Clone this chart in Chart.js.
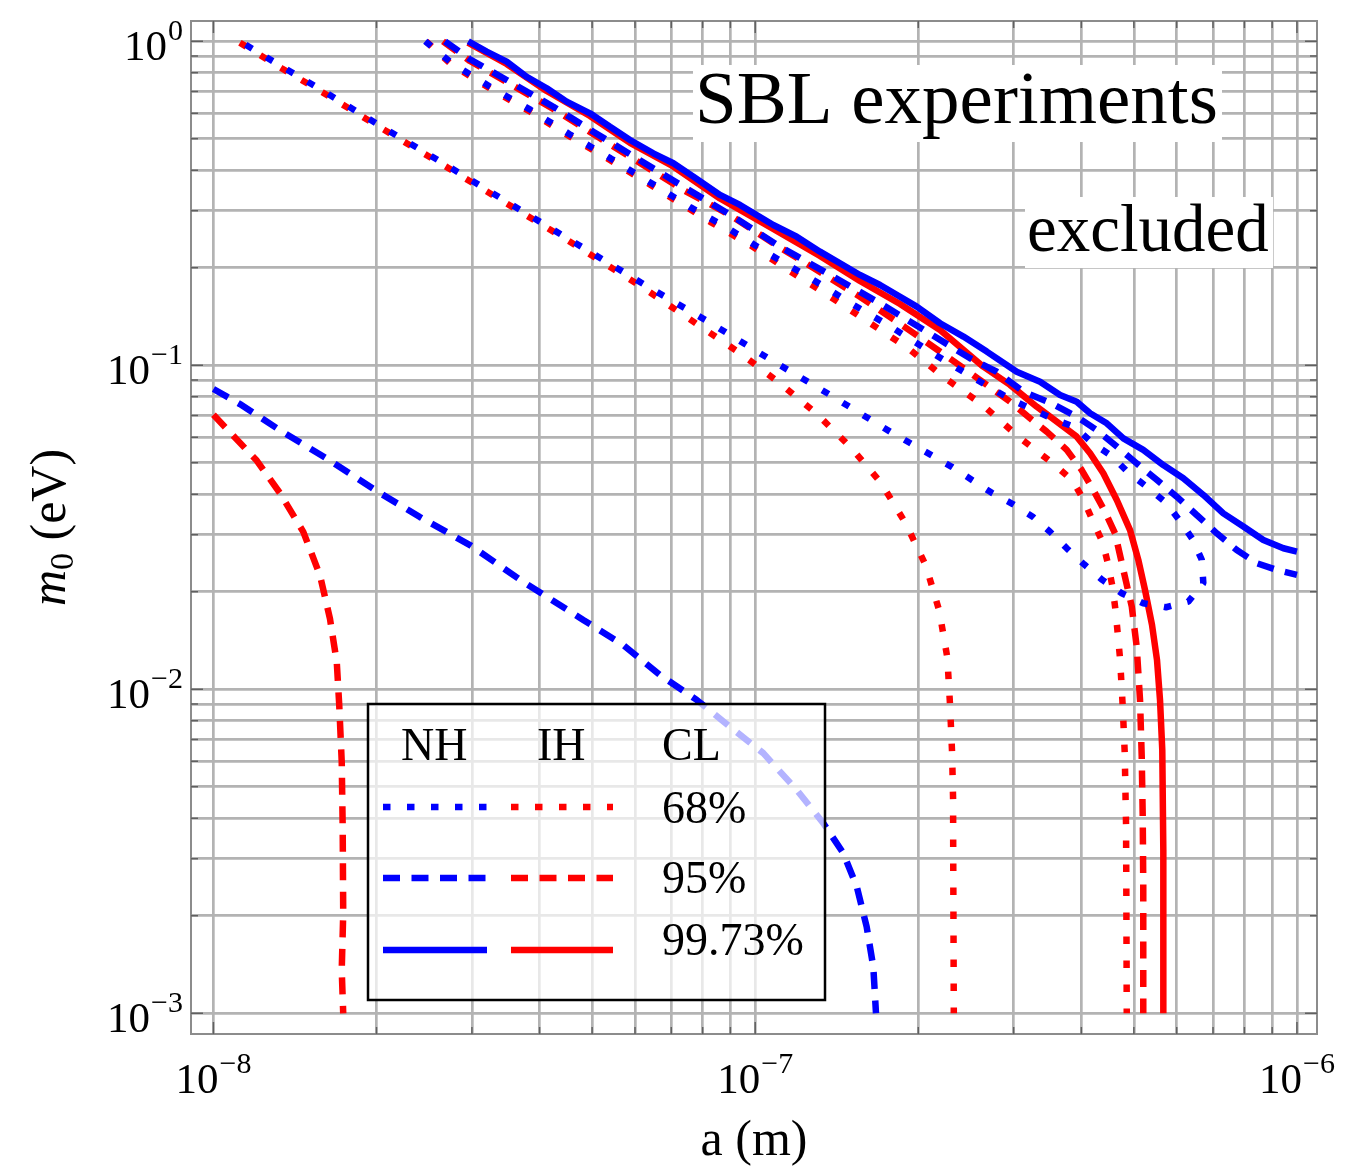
<!DOCTYPE html>
<html><head><meta charset="utf-8">
<script src="https://cdn.jsdelivr.net/npm/chart.js@4.4.1/dist/chart.umd.min.js"></script>
<style>html,body{margin:0;padding:0;background:#fff;}#wrap{width:1350px;height:1169px;}</style>
</head><body><div id="wrap"><canvas id="c" width="1350" height="1169"></canvas></div>
<script>
// ---- data: [a (m), m0 (eV)] ----
const NH_68 = [[2.46e-8,1.0],[2.741e-8,0.861],[3.24e-8,0.724],[3.851e-8,0.614],[4.564e-8,0.514],[5.411e-8,0.435],[6.413e-8,0.366],[7.602e-8,0.307],[9.01e-8,0.2617],[1.068e-7,0.219],[1.266e-7,0.1856],[1.501e-7,0.1554],[1.779e-7,0.1316],[2.102e-7,0.1102],[2.493e-7,0.0927],[2.963e-7,0.0785],[3.547e-7,0.0683],[3.894e-7,0.0644],[4.198e-7,0.0574],[4.55e-7,0.0525],[4.884e-7,0.0466],[5.28e-7,0.0422],[5.708e-7,0.0379],[6.066e-7,0.0333],[6.421e-7,0.029],[6.673e-7,0.0251],[6.718e-7,0.02125],[6.302e-7,0.01864],[5.733e-7,0.01791],[5.204e-7,0.01842],[4.749e-7,0.01978],[4.373e-7,0.02175],[4.046e-7,0.02431],[3.759e-7,0.02724],[3.501e-7,0.03064],[3.253e-7,0.0341],[2.988e-7,0.0373],[2.733e-7,0.0404],[2.306e-7,0.0486],[1.774e-7,0.0624],[1.375e-7,0.081],[1.057e-7,0.1051],[8.19e-8,0.1364],[6.26e-8,0.1769],[4.468e-8,0.2484],[3.452e-8,0.3221],[2.664e-8,0.4191],[2.053e-8,0.5428],[1.591e-8,0.704],[1.338e-8,0.835],[1.119e-8,1.0]];
const IH_68_UPPER = [[2.47e-8,1.0],[2.741e-8,0.851],[3.24e-8,0.715],[3.851e-8,0.605],[4.564e-8,0.5066],[5.411e-8,0.4286],[6.413e-8,0.3601],[8.31e-8,0.2755],[9.85e-8,0.2335],[1.163e-7,0.1945],[1.375e-7,0.1628],[1.624e-7,0.1354],[1.917e-7,0.1128],[2.231e-7,0.0918],[2.63e-7,0.0754],[3.06e-7,0.0602],[3.576e-7,0.0492],[3.856e-7,0.044],[4.034e-7,0.0386],[4.198e-7,0.0331],[4.38e-7,0.0284],[4.485e-7,0.0242],[4.571e-7,0.0205],[4.629e-7,0.01732],[4.716e-7,0.01238],[4.769e-7,0.00884],[4.81e-7,0.00635],[4.837e-7,0.00381],[4.843e-7,0.00231],[4.851e-7,0.001]];
const IH_68_LOWER = [[1.119e-8,0.99],[1.338e-8,0.824],[1.591e-8,0.695],[2.053e-8,0.5362],[2.664e-8,0.4138],[3.452e-8,0.318],[4.468e-8,0.2454],[6.26e-8,0.172],[8.02e-8,0.130],[9.48e-8,0.1076],[1.111e-7,0.088],[1.299e-7,0.0708],[1.501e-7,0.0558],[1.707e-7,0.0434],[1.898e-7,0.0324],[2.067e-7,0.024],[2.187e-7,0.01745],[2.263e-7,0.01252],[2.289e-7,0.00894],[2.309e-7,0.00639],[2.319e-7,0.00458],[2.32e-7,0.00327],[2.326e-7,0.001]];
const NH_95_UPPER = [[2.676e-8,1.0],[2.975e-8,0.88],[3.477e-8,0.7596],[4.24e-8,0.628],[5.025e-8,0.526],[6.041e-8,0.4354],[7.37e-8,0.3558],[9.11e-8,0.2875],[1.111e-7,0.2323],[1.394e-7,0.1877],[1.7e-7,0.1553],[2.073e-7,0.127],[2.493e-7,0.1051],[2.792e-7,0.0955],[3.125e-7,0.0829],[3.501e-7,0.0767],[3.922e-7,0.0694],[4.271e-7,0.0631],[4.65e-7,0.0561],[5.061e-7,0.0498],[5.511e-7,0.0443],[5.999e-7,0.0393],[6.531e-7,0.0345],[7.112e-7,0.0303],[7.743e-7,0.0269],[8.431e-7,0.0245],[9.18e-7,0.02334],[1.0e-6,0.02254]];
const NH_95_LOWER = [[1.0e-8,0.0845],[1.119e-8,0.0759],[1.327e-8,0.063],[1.641e-8,0.0508],[2.001e-8,0.0409],[2.405e-8,0.034],[2.975e-8,0.02787],[3.732e-8,0.02144],[4.816e-8,0.01637],[5.708e-8,0.0137],[6.673e-8,0.01107],[7.8e-8,0.00927],[8.984e-8,0.00766],[1.035e-7,0.00635],[1.193e-7,0.00489],[1.336e-7,0.00386],[1.454e-7,0.00312],[1.54e-7,0.00246],[1.606e-7,0.00185],[1.652e-7,0.00139],[1.671e-7,0.001]];
const IH_95_UPPER = [[2.653e-8,1.0],[2.975e-8,0.869],[3.477e-8,0.749],[4.24e-8,0.618],[5.025e-8,0.5175],[6.041e-8,0.4272],[7.37e-8,0.3475],[8.984e-8,0.291],[1.08e-7,0.2379],[1.299e-7,0.1968],[1.561e-7,0.1628],[1.904e-7,0.13],[2.355e-7,0.1014],[2.676e-7,0.087],[2.954e-7,0.0772],[3.216e-7,0.0686],[3.452e-7,0.0624],[3.759e-7,0.0548],[4.006e-7,0.0475],[4.209e-7,0.0412],[4.423e-7,0.0353],[4.616e-7,0.0303],[4.782e-7,0.02334],[4.956e-7,0.01799],[5.061e-7,0.01353],[5.133e-7,0.00927],[5.17e-7,0.00619],[5.192e-7,0.00404],[5.204e-7,0.00252],[5.204e-7,0.001]];
const IH_95_LOWER = [[1.0e-8,0.0703],[1.073e-8,0.0621],[1.202e-8,0.0508],[1.327e-8,0.0403],[1.465e-8,0.0306],[1.573e-8,0.02245],[1.641e-8,0.0165],[1.689e-8,0.01213],[1.707e-8,0.00891],[1.725e-8,0.00597],[1.732e-8,0.00376],[1.736e-8,0.00203],[1.725e-8,0.00136],[1.736e-8,0.001]];
const NH_9973 = [[2.954e-8,1.0],[3.194e-8,0.929],[3.477e-8,0.865],[3.786e-8,0.777],[4.123e-8,0.716],[4.487e-8,0.651],[4.955e-8,0.5994],[5.395e-8,0.545],[5.874e-8,0.4959],[6.485e-8,0.4511],[7.062e-8,0.4203],[7.69e-8,0.3821],[8.61e-8,0.3355],[9.375e-8,0.3125],[1.08e-7,0.271],[1.193e-7,0.2494],[1.317e-7,0.2242],[1.434e-7,0.2064],[1.561e-7,0.19],[1.7e-7,0.1769],[1.851e-7,0.1628],[1.987e-7,0.1517],[2.194e-7,0.1348],[2.423e-7,0.1226],[2.676e-7,0.1102],[3.039e-7,0.0955],[3.356e-7,0.089],[3.654e-7,0.081],[3.922e-7,0.0772],[4.151e-7,0.0711],[4.456e-7,0.0662],[4.782e-7,0.0595],[5.204e-7,0.0548],[5.667e-7,0.0492],[6.17e-7,0.0448],[6.718e-7,0.0398],[7.313e-7,0.0349],[7.963e-7,0.0318],[8.67e-7,0.0289],[9.44e-7,0.02724],[1.0e-6,0.0266]];
const IH_9973 = [[2.95e-8,0.99],[3.477e-8,0.851],[4.123e-8,0.7024],[4.955e-8,0.588],[5.874e-8,0.4856],[7.062e-8,0.4108],[8.61e-8,0.3272],[1.08e-7,0.2635],[1.317e-7,0.2175],[1.561e-7,0.182],[1.851e-7,0.1546],[2.194e-7,0.1285],[2.637e-7,0.099],[2.954e-7,0.087],[3.309e-7,0.0745],[3.603e-7,0.067],[3.922e-7,0.0602],[4.151e-7,0.0535],[4.391e-7,0.0464],[4.65e-7,0.0384],[4.92e-7,0.031],[5.095e-7,0.0251],[5.243e-7,0.02025],[5.401e-7,0.0158],[5.517e-7,0.01231],[5.588e-7,0.00927],[5.642e-7,0.0065],[5.667e-7,0.00319],[5.667e-7,0.001]];

// ---- ticks and labels ----
const X_TICK_VALUES = [1e-8, 1e-7, 1e-6];
const X_TICK_EXPONENTS = ['\u22128', '\u22127', '\u22126'];
const Y_TICK_VALUES = [1, 0.1, 0.01, 0.001];
const Y_TICK_EXPONENTS = ['0', '\u22121', '\u22122', '\u22123'];
const LEGEND_HEADERS = ['NH', 'IH', 'CL'];
const LEGEND_LEVELS = ['68%', '95%', '99.73%'];
const ANNOTATIONS = ['SBL experiments', 'excluded'];
const X_TITLE = 'a (m)';

const SERIF = '"Liberation Serif", "DejaVu Serif", serif';
const BLUE = '#0000ff', RED = '#ff0000';
const DOT = [7.5, 16.5], DASH = [17, 11.5];
const GRID = '#b3b3b3';

function gridValues(e0, e1) {
  const out = [];
  for (let e = e0; e < e1; e++) for (let k = 1; k <= 9; k++) out.push(k * Math.pow(10, e));
  out.push(Math.pow(10, e1));
  return out;
}

function ds(label, pts, color, dash, order) {
  return {
    label, data: pts.map(p => ({x: p[0], y: p[1]})),
    borderColor: color, borderWidth: 6.5, borderDash: dash,
    borderCapStyle: 'butt', borderJoinStyle: 'bevel',
    showLine: true, pointRadius: 0, tension: 0, fill: false, order
  };
}

const datasets = [
  ds('NH 99.73%', NH_9973, BLUE, [], 0),
  ds('NH 95% upper', NH_95_UPPER, BLUE, DASH, 1),
  ds('NH 95% lower', NH_95_LOWER, BLUE, DASH, 2),
  ds('NH 68%', NH_68, BLUE, DOT, 3),
  ds('IH 99.73%', IH_9973, RED, [], 4),
  ds('IH 95% upper', IH_95_UPPER, RED, DASH, 5),
  ds('IH 95% lower', IH_95_LOWER, RED, DASH, 6),
  ds('IH 68% upper', IH_68_UPPER, RED, DOT, 7),
  ds('IH 68% lower', IH_68_LOWER, RED, DOT, 8)
];

function drawPow(ctx, exp, x, baseY, align) {
  ctx.font = '43px ' + SERIF; const wb = ctx.measureText('10').width;
  ctx.font = '30px ' + SERIF; const we = ctx.measureText(exp).width;
  const total = wb + 1 + we;
  const left = align === 'right' ? x - total : x - total / 2;
  ctx.textAlign = 'left'; ctx.textBaseline = 'alphabetic'; ctx.fillStyle = '#000';
  ctx.font = '43px ' + SERIF; ctx.fillText('10', left, baseY);
  ctx.font = '30px ' + SERIF; ctx.fillText(exp, left + wb + 1, baseY - 20);
}

const decor = {
  id: 'decor',
  beforeDraw(chart) {
    const c = chart.ctx; c.save(); c.fillStyle = '#fff'; c.fillRect(0, 0, chart.width, chart.height); c.restore();
  },
  afterDatasetsDraw(chart) {
    const c = chart.ctx, a = chart.chartArea, xs = chart.scales.x, ys = chart.scales.y;
    c.save();
    // annotation boxes
    c.fillStyle = '#fff';
    c.fillRect(693, 65, 529, 77);
    c.fillRect(1025, 197, 248, 71);
    c.fillStyle = '#000'; c.textAlign = 'left'; c.textBaseline = 'alphabetic';
    c.font = '75px ' + SERIF; c.fillText(ANNOTATIONS[0], 695, 123);
    c.font = '67px ' + SERIF; c.fillText(ANNOTATIONS[1], 1027, 251);

    // legend
    const L = 368, T = 704, W = 457, H = 296;
    c.fillStyle = 'rgba(255,255,255,0.7)'; c.fillRect(L, T, W, H);
    c.strokeStyle = '#000'; c.lineWidth = 2.5; c.setLineDash([]); c.strokeRect(L, T, W, H);
    c.fillStyle = '#000'; c.font = '46px ' + SERIF;
    c.fillText(LEGEND_HEADERS[0], 401, 760);
    c.fillText(LEGEND_HEADERS[1], 537, 760);
    c.fillText(LEGEND_HEADERS[2], 662, 760);
    const rows = [[807, DOT, 823], [878, DASH, 893], [950, [], 955]];
    rows.forEach((r, i) => {
      c.lineWidth = 6.5; c.lineCap = 'butt'; c.setLineDash(r[1]);
      c.strokeStyle = BLUE; c.beginPath(); c.moveTo(383, r[0]); c.lineTo(487, r[0]); c.stroke();
      c.strokeStyle = RED; c.beginPath(); c.moveTo(511, r[0]); c.lineTo(613, r[0]); c.stroke();
      c.setLineDash([]);
      c.fillStyle = '#000'; c.font = '46px ' + SERIF; c.fillText(LEGEND_LEVELS[i], 662, r[2]);
    });

    // frame
    c.setLineDash([]);
    c.strokeStyle = '#8c8c8c'; c.lineWidth = 2;
    c.strokeRect(a.left, a.top, a.right - a.left, a.bottom - a.top);
    // inner tick marks
    c.strokeStyle = '#606060'; c.lineWidth = 1.5;
    xs.ticks.forEach(t => {
      const px = xs.getPixelForValue(t.value);
      const len = X_TICK_VALUES.some(v => Math.abs(v - t.value) / v < 1e-6) ? 12 : 7;
      c.beginPath(); c.moveTo(px, a.bottom); c.lineTo(px, a.bottom - len);
      c.moveTo(px, a.top); c.lineTo(px, a.top + len); c.stroke();
    });
    ys.ticks.forEach(t => {
      const py = ys.getPixelForValue(t.value);
      const len = Y_TICK_VALUES.some(v => Math.abs(v - t.value) / v < 1e-6) ? 12 : 7;
      c.beginPath(); c.moveTo(a.left, py); c.lineTo(a.left + len, py);
      c.moveTo(a.right, py); c.lineTo(a.right - len, py); c.stroke();
    });

    // tick labels
    X_TICK_VALUES.forEach((v, i) => drawPow(c, X_TICK_EXPONENTS[i], xs.getPixelForValue(v), a.bottom + 59, 'center'));
    Y_TICK_VALUES.forEach((v, i) => drawPow(c, Y_TICK_EXPONENTS[i], 183, ys.getPixelForValue(v) + 19, 'right'));

    // axis titles
    c.fillStyle = '#000'; c.textAlign = 'center'; c.font = '50px ' + SERIF;
    c.fillText(X_TITLE, (a.left + a.right) / 2, 1155);
    c.translate(65, (a.top + a.bottom) / 2); c.rotate(-Math.PI / 2);
    c.textAlign = 'left';
    c.font = 'italic 50px ' + SERIF; const wm = c.measureText('m').width;
    c.font = '34px ' + SERIF; const w0 = c.measureText('0').width;
    c.font = '50px ' + SERIF; const wr = c.measureText(' (eV)').width;
    let sx = -(wm + w0 + wr) / 2;
    c.font = 'italic 50px ' + SERIF; c.fillText('m', sx, 0); sx += wm;
    c.font = '34px ' + SERIF; c.fillText('0', sx, 8); sx += w0;
    c.font = '50px ' + SERIF; c.fillText(' (eV)', sx, 0);
    c.restore();
  }
};

new Chart(document.getElementById('c'), {
  type: 'scatter',
  data: { datasets },
  options: {
    responsive: false, animation: false, devicePixelRatio: 1,
    layout: { padding: { left: 191, top: 21, right: 33, bottom: 135 } },
    plugins: { legend: { display: false }, tooltip: { enabled: false } },
    scales: {
      x: {
        type: 'logarithmic', min: 9.09e-9, max: 1.089e-6, bounds: 'data',
        grid: { color: GRID, lineWidth: 2.7, drawTicks: false },
        border: { display: false }, ticks: { display: false },
        afterBuildTicks: s => { s.ticks = gridValues(-8, -6).map(v => ({ value: v })); }
      },
      y: {
        type: 'logarithmic', min: 8.63e-4, max: 1.155, bounds: 'data',
        grid: { color: GRID, lineWidth: 2.7, drawTicks: false },
        border: { display: false }, ticks: { display: false },
        afterBuildTicks: s => { s.ticks = gridValues(-3, 0).map(v => ({ value: v })); }
      }
    }
  },
  plugins: [decor]
});
</script></body></html>
